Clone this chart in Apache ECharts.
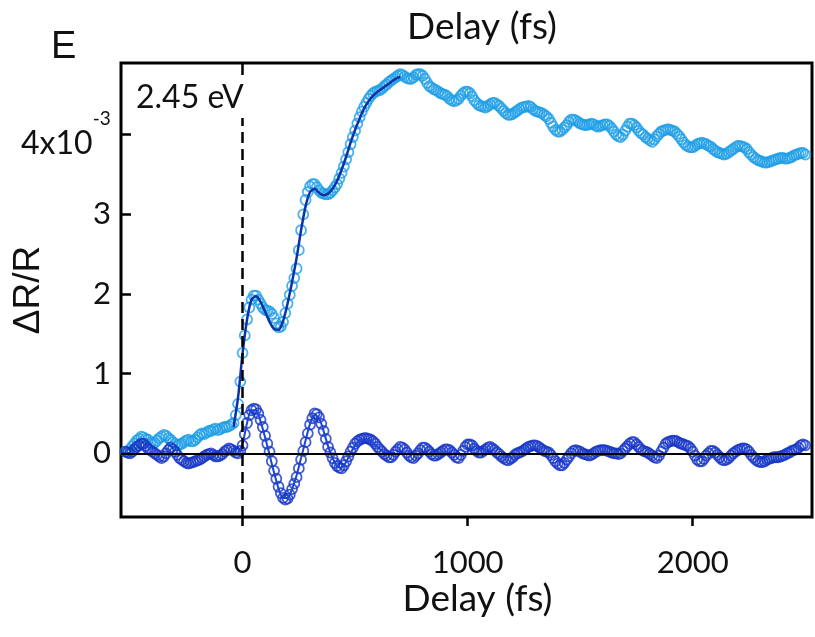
<!DOCTYPE html>
<html>
<head>
<meta charset="utf-8">
<script src="https://cdn.jsdelivr.net/npm/echarts@6/dist/echarts.min.js"></script>
<style>
  html, body { margin: 0; padding: 0; background: #fff; }
  #chart { width: 815px; height: 637px; }
</style>
</head>
<body>
<div id="chart"></div>
<script>
// delay grid of the measured traces (fs)
const delayStart = -520
const delayStep = 10

// dR/R (x1e-3), 2.45 eV probe, one row = 200 fs
const reflectivity = [
  0.02, 0.01, 0.05, 0.09, 0.12, 0.16, 0.18, 0.21, 0.20, 0.18, 0.17, 0.13, 0.12, 0.13, 0.16, 0.19, 0.21, 0.23, 0.22, 0.19,
  0.17, 0.14, 0.12, 0.10, 0.11, 0.12, 0.14, 0.16, 0.17, 0.15, 0.15, 0.17, 0.20, 0.23, 0.25, 0.24, 0.26, 0.28, 0.28, 0.30,
  0.31, 0.29, 0.30, 0.32, 0.33, 0.33, 0.34, 0.36, 0.38, 0.48, 0.62, 0.90, 1.26, 1.48, 1.68, 1.83, 1.93, 1.98, 1.98, 1.93,
  1.88, 1.83, 1.80, 1.79, 1.78, 1.75, 1.70, 1.63, 1.58, 1.59, 1.65, 1.76, 1.88, 1.99, 2.10, 2.20, 2.32, 2.55, 2.80, 3.00,
  3.18, 3.28, 3.35, 3.38, 3.38, 3.34, 3.30, 3.27, 3.26, 3.25, 3.25, 3.27, 3.30, 3.34, 3.38, 3.45, 3.52, 3.60, 3.69, 3.78,
  3.88, 3.97, 4.05, 4.14, 4.22, 4.29, 4.35, 4.40, 4.45, 4.49, 4.52, 4.54, 4.55, 4.56, 4.58, 4.61, 4.63, 4.66, 4.68, 4.70,
  4.72, 4.74, 4.76, 4.75, 4.73, 4.71, 4.70, 4.70, 4.72, 4.75, 4.76, 4.76, 4.74, 4.70, 4.65, 4.61, 4.59, 4.57, 4.56, 4.54,
  4.52, 4.51, 4.50, 4.48, 4.45, 4.43, 4.42, 4.43, 4.45, 4.49, 4.52, 4.54, 4.54, 4.52, 4.48, 4.43, 4.40, 4.37, 4.36, 4.35,
  4.34, 4.36, 4.38, 4.40, 4.40, 4.38, 4.36, 4.33, 4.30, 4.27, 4.25, 4.25, 4.26, 4.28, 4.30, 4.32, 4.34, 4.35, 4.35, 4.36,
  4.35, 4.32, 4.30, 4.29, 4.28, 4.27, 4.25, 4.23, 4.20, 4.15, 4.10, 4.06, 4.04, 4.04, 4.06, 4.09, 4.12, 4.16, 4.19, 4.19,
  4.18, 4.16, 4.14, 4.13, 4.12, 4.12, 4.13, 4.14, 4.13, 4.11, 4.10, 4.11, 4.12, 4.13, 4.13, 4.11, 4.08, 4.04, 4.00, 3.98,
  3.97, 4.00, 4.05, 4.10, 4.14, 4.14, 4.12, 4.09, 4.05, 4.02, 4.00, 3.97, 3.95, 3.93, 3.91, 3.94, 3.98, 4.01, 4.04, 4.05,
  4.06, 4.07, 4.06, 4.05, 4.04, 4.01, 3.98, 3.94, 3.90, 3.87, 3.85, 3.84, 3.84, 3.86, 3.88, 3.89, 3.90, 3.89, 3.88, 3.86,
  3.85, 3.82, 3.80, 3.78, 3.77, 3.76, 3.75, 3.76, 3.78, 3.80, 3.82, 3.84, 3.86, 3.86, 3.85, 3.84, 3.82, 3.78, 3.75, 3.72,
  3.70, 3.68, 3.67, 3.66, 3.65, 3.65, 3.66, 3.67, 3.68, 3.69, 3.70, 3.71, 3.71, 3.70, 3.70, 3.71, 3.72, 3.74, 3.75, 3.76,
  3.77, 3.77, 3.75,
]

// oscillatory residual (x1e-3), same delay grid
const residual = [
  0.02, 0.01, 0.00, 0.02, 0.05, 0.08, 0.10, 0.12, 0.12, 0.09, 0.06, 0.04, 0.02, 0.00, -0.02, -0.04, -0.06, -0.04, 0.00, 0.04,
  0.07, 0.05, 0.02, -0.02, -0.06, -0.08, -0.10, -0.12, -0.13, -0.12, -0.11, -0.10, -0.09, -0.08, -0.06, -0.04, -0.02, -0.01, 0.00, -0.02,
  -0.04, -0.04, -0.03, -0.01, 0.02, 0.04, 0.06, 0.05, 0.03, 0.01, 0.00, 0.03, 0.10, 0.24, 0.38, 0.48, 0.54, 0.56, 0.55, 0.50,
  0.42, 0.33, 0.22, 0.12, 0.02, -0.10, -0.22, -0.32, -0.42, -0.50, -0.56, -0.58, -0.57, -0.52, -0.45, -0.38, -0.30, -0.19, -0.08, 0.03,
  0.14, 0.25, 0.36, 0.44, 0.50, 0.49, 0.45, 0.37, 0.28, 0.18, 0.08, 0.01, -0.06, -0.12, -0.16, -0.18, -0.19, -0.15, -0.10, -0.04,
  0.02, 0.07, 0.12, 0.15, 0.17, 0.18, 0.19, 0.19, 0.18, 0.17, 0.15, 0.12, 0.08, 0.05, 0.02, -0.01, -0.03, -0.05, -0.05, -0.02,
  0.02, 0.05, 0.08, 0.07, 0.05, 0.01, -0.03, -0.05, -0.06, -0.03, 0.00, 0.04, 0.07, 0.07, 0.05, 0.02, -0.01, -0.03, -0.03, -0.01,
  0.01, 0.03, 0.05, 0.05, 0.04, 0.01, -0.02, -0.05, -0.06, -0.02, 0.03, 0.08, 0.11, 0.11, 0.10, 0.06, 0.03, 0.01, 0.01, 0.03,
  0.05, 0.07, 0.08, 0.06, 0.04, 0.01, -0.01, -0.04, -0.06, -0.08, -0.09, -0.07, -0.05, -0.02, 0.00, 0.01, 0.02, 0.04, 0.06, 0.08,
  0.09, 0.10, 0.10, 0.09, 0.07, 0.05, 0.03, 0.02, 0.01, -0.02, -0.06, -0.10, -0.13, -0.15, -0.15, -0.12, -0.08, -0.04, 0.00, 0.03,
  0.04, 0.03, 0.02, 0.00, -0.01, -0.02, -0.03, -0.02, 0.00, 0.02, 0.03, 0.04, 0.04, 0.04, 0.03, 0.02, 0.01, 0.00, 0.00, -0.01,
  0.00, 0.03, 0.06, 0.09, 0.12, 0.14, 0.14, 0.11, 0.08, 0.05, 0.03, 0.02, 0.01, -0.01, -0.03, -0.05, -0.06, -0.03, 0.02, 0.07,
  0.12, 0.14, 0.15, 0.16, 0.16, 0.15, 0.13, 0.12, 0.11, 0.10, 0.09, 0.06, 0.02, -0.03, -0.08, -0.10, -0.10, -0.07, -0.03, 0.00,
  0.03, 0.03, 0.01, -0.02, -0.05, -0.08, -0.09, -0.08, -0.06, -0.03, 0.00, 0.02, 0.04, 0.05, 0.06, 0.06, 0.05, 0.02, -0.02, -0.05,
  -0.08, -0.10, -0.11, -0.11, -0.10, -0.08, -0.07, -0.06, -0.05, -0.05, -0.05, -0.04, -0.03, -0.02, 0.00, 0.01, 0.03, 0.04, 0.05, 0.07,
  0.10, 0.11, 0.10,
]

// fit curves, 20 fs spacing
const fitStep = 20
const riseFitStart = -40
const riseFit = [
  0.33, 0.70, 1.25, 1.68, 1.93, 1.97, 1.90, 1.78, 1.65, 1.56,
  1.55, 1.66, 1.88, 2.15, 2.45, 2.80, 3.10, 3.28, 3.32, 3.27,
  3.24, 3.26, 3.32, 3.42, 3.56, 3.72, 3.90, 4.06, 4.20, 4.33,
  4.42, 4.49, 4.54, 4.58, 4.62, 4.66, 4.70, 4.73,
]
const oscFitStart = -20
const oscFit = [
  0.00, 0.12, 0.38, 0.54, 0.54, 0.40, 0.20, -0.02, -0.24, -0.44,
  -0.56, -0.56, -0.45, -0.28, -0.06, 0.16, 0.37, 0.48, 0.44, 0.28,
  0.09, -0.06, -0.16, -0.18, -0.11, 0.00, 0.10, 0.16, 0.18, 0.17,
  0.13, 0.08, 0.03, 0.00, -0.02,
]

const xTicks = [0, 1000, 2000]
const yTicks = [0, 1, 2, 3, 4]

const font = 'Lato'
const toPairs = (arr, start, step) => arr.map((v, i) => [start + i * step, v])

const chart = echarts.init(document.getElementById('chart'))

chart.setOption({
  animation: false,
  backgroundColor: '#fff',
  title: [
    {
      text: 'Delay (fs)', left: 477, top: 4, textAlign: 'center',
      textStyle: { fontFamily: font, fontSize: 37, fontWeight: 'normal', color: '#111' },
    },
    {
      text: 'E', left: 46, top: 24,
      textStyle: { fontFamily: 'Liberation Sans', fontSize: 38, fontWeight: 'normal', color: '#111' },
    },
    {
      text: '2.45 eV', left: 134, top: 80, padding: [2, 2, 4, 2],
      backgroundColor: '#fff',
      textStyle: { fontFamily: font, fontSize: 32, fontWeight: 'normal', color: '#111' },
    },
  ],
  grid: {
    left: 121, right: 3, top: 63, bottom: 120,
    outerBoundsMode: 'none', containLabel: false,
    show: true, borderColor: '#000', borderWidth: 3,
  },
  xAxis: {
    type: 'value', min: -540, max: 2530,
    name: 'Delay (fs)', nameLocation: 'middle', nameGap: 64, nameMoveOverlap: false,
    nameTextStyle: { fontFamily: font, fontSize: 37, color: '#111', padding: [0, 0, 0, 22] },
    axisLine: { show: false, onZero: false },
    axisTick: { show: true, customValues: xTicks, length: 9, lineStyle: { color: '#000', width: 2.5 } },
    axisLabel: {
      customValues: xTicks, margin: 30, fontFamily: font, fontSize: 31, color: '#111',
      formatter: (v) => String(v),
    },
    splitLine: { show: false },
  },
  yAxis: {
    type: 'value', min: -0.8, max: 4.9,
    name: 'ΔR/R', nameLocation: 'middle', nameGap: 74, nameRotate: 90, nameMoveOverlap: false,
    nameTextStyle: { fontFamily: 'Liberation Sans', fontSize: 37, color: '#111' },
    axisLine: { show: false, onZero: false },
    axisTick: { show: true, inside: true, customValues: yTicks, length: 10, lineStyle: { color: '#000', width: 2.5 } },
    axisLabel: {
      customValues: yTicks, margin: 10, fontFamily: font, fontSize: 31, color: '#111',
      formatter: (v) => (v === 4 ? '{b|4x10}{s|-3}{h| }' : String(v)),
      rich: {
        b: { fontFamily: font, fontSize: 32, lineHeight: 32, verticalAlign: 'bottom', color: '#111' },
        s: { fontFamily: font, fontSize: 19, lineHeight: 19, verticalAlign: 'top', color: '#111' },
        h: { fontSize: 1, lineHeight: 50 },
      },
    },
    splitLine: { show: false },
  },
  series: [
    {
      type: 'line', data: [], silent: true, z: 1,
      markLine: {
        silent: true, symbol: 'none', label: { show: false }, animation: false,
        data: [
          { yAxis: 0, lineStyle: { color: '#000', width: 2, type: 'solid' } },
          { xAxis: 0, lineStyle: { color: '#000', width: 2.5, type: [11, 6] } },
        ],
      },
    },
    {
      name: 'ΔR/R', type: 'scatter', z: 2,
      data: toPairs(reflectivity, delayStart, delayStep),
      symbol: 'circle', symbolSize: 10,
      itemStyle: { color: 'rgba(0,0,0,0)', borderColor: '#1f9fe6', borderWidth: 1.8 },
    },
    {
      name: 'residual', type: 'scatter', z: 3,
      data: toPairs(residual, delayStart, delayStep),
      symbol: 'circle', symbolSize: 10,
      itemStyle: { color: 'rgba(0,0,0,0)', borderColor: '#1636c6', borderWidth: 1.8 },
    },
    {
      name: 'fit', type: 'line', z: 4, showSymbol: false, smooth: 0.3,
      data: toPairs(riseFit, riseFitStart, fitStep),
      lineStyle: { color: '#0b33a8', width: 2.5 },
    },
    {
      name: 'osc fit', type: 'line', z: 4, showSymbol: false, smooth: 0.3,
      data: toPairs(oscFit, oscFitStart, fitStep),
      lineStyle: { color: '#1a45d6', width: 2 },
    },
  ],
})
</script>
</body>
</html>
